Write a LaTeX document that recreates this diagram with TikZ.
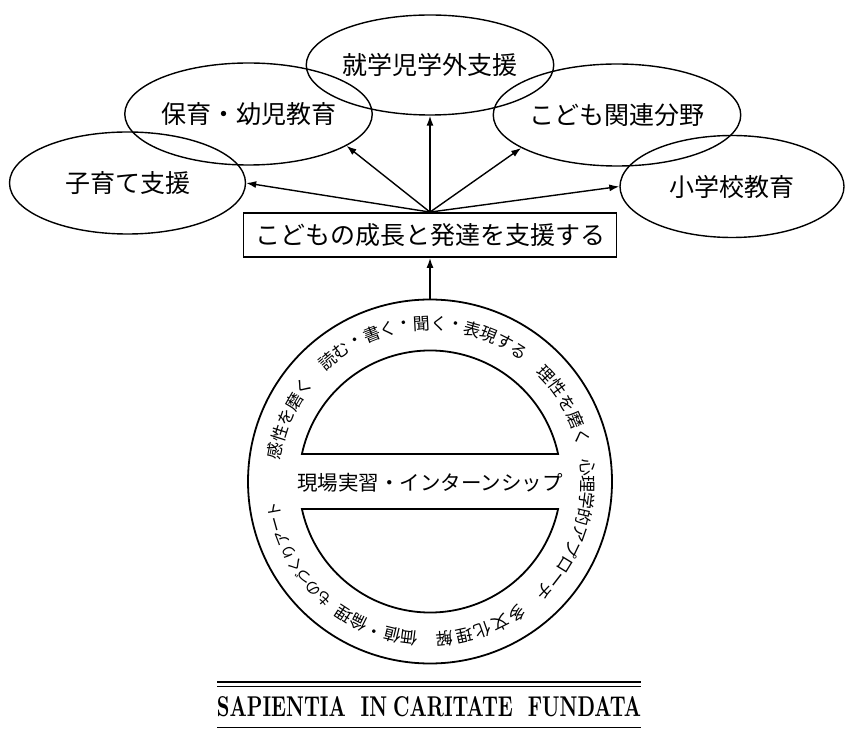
\documentclass[tikz,border=0pt]{standalone}
\usepackage{fontspec}
\usepackage{graphicx}
\newfontfamily\jp{Noto Sans CJK JP}
\usetikzlibrary{shapes.geometric,arrows.meta}
\newcommand\ringtext[5][]{%
  \foreach \ch [count=\k] in {#5} {%
    \pgfmathsetmacro\ang{#3-(\k-1)*#4}%
    \pgfmathsetmacro\rot{\ang-90}%
    \node[ringch, #1, rotate=\rot] (#2-\k) at ([shift={(\ang:158)}]C) {\ch};
  }%
}
\begin{document}
\begin{tikzpicture}[x=1pt,y=1pt,
  field/.style={ellipse, draw, line width=1.4pt, inner sep=0pt, font=\jp\fontsize{25}{25}\selectfont},
  goal/.style={draw, line width=1.8pt, minimum width=373pt, minimum height=44pt, inner sep=0pt, font=\jp\fontsize{25}{25}\selectfont},
  arr/.style={line width=1.4pt, -{Latex[length=10pt,width=7pt]}},
  ringch/.style={inner sep=0pt, font=\jp\fontsize{17}{17}\selectfont},
  smallch/.style={font=\jp\fontsize{15.5}{15.5}\selectfont},
  segline/.style={line width=1.8pt},
  rule/.style={line width=#1},
]
\useasboundingbox (0,0) rectangle (845,729);

% top ellipses
\node[field, minimum width=236pt, minimum height=102pt] (kosodate) at (127.5,546) {子育て支援};
\node[field, minimum width=233pt, minimum height=102pt] (hoiku) at (248.5,615) {保育・幼児教育};
\node[field, minimum width=233pt, minimum height=100pt] (shugaku) at (430,664) {就学児学外支援};
\node[field, minimum width=234pt, minimum height=102pt] (kodomo) at (617,614) {こども関連分野};
\node[field, minimum width=224pt, minimum height=102pt] (shogakko) at (732,542.5) {小学校教育};

% central box
\node[goal] (goal) at (430,494) {こどもの成長と発達を支援する};

\draw[arr] (goal.north) -- (kosodate.east);
\draw[arr] (goal.north) -- (hoiku.-18);
\draw[arr] (goal.north) -- (shugaku.south);
\draw[arr] (goal.north) -- (kodomo.-161);
\draw[arr] (goal.north) -- (shogakko.west);

% ring
\coordinate (C) at (430,247.5);
\node[circle, draw, line width=1.8pt, minimum size=364pt, inner sep=0pt] (ring) at (C) {};
\draw[arr] (ring.north) -- (goal.south);

\draw[segline] ([shift={(12.12:131)}]C) arc[start angle=12.12, end angle=167.88, radius=131] -- cycle;
\draw[segline] ([shift={(-12.12:131)}]C) arc[start angle=-12.12, end angle=-167.88, radius=131] -- cycle;
\node[font=\jp\fontsize{20.5}{20.5}\selectfont, inner sep=0pt] (jisshu) at ([yshift=-1.5pt]C) {現場実習・インターンシップ};

\ringtext{kansei}{168.7}{6.375}{感,性,を,磨,く}
\ringtext{yomu}{130.4}{6.233}{読,む,・,書,く,・,聞,く,・,表,現,す,る}
\ringtext{risei}{42.9}{6.625}{理,性,を,磨,く}
\ringtext{shinri}{5.3}{6.15}{心,理,学,的,ア,プ,ロ,ー,チ}
\ringtext{tabunka}{-56.6}{6.975}{多,文,化,理,解}
\ringtext{kachi}{-97.4}{6.375}{価,値,・,倫,理}
\ringtext[smallch]{mono}{-132}{5.4}{も,の,づ,く,り,ア,ー,ト}

% motto
\draw[rule=2.2pt] (217,47) -- (641,47);
\draw[rule=1.2pt] (217,42.2) -- (641,42.2);
\node[inner sep=0pt] (motto) at (429,22) {\resizebox{424pt}{20pt}{\bfseries\addfontfeature{FakeBold=3}SAPIENTIA\hspace{0.75em}IN\hspace{0.3em}CARITATE\hspace{0.75em}FUNDATA}};
\draw[rule=1pt] (217,1.2) -- (641,1.2);
\end{tikzpicture}
\end{document}
